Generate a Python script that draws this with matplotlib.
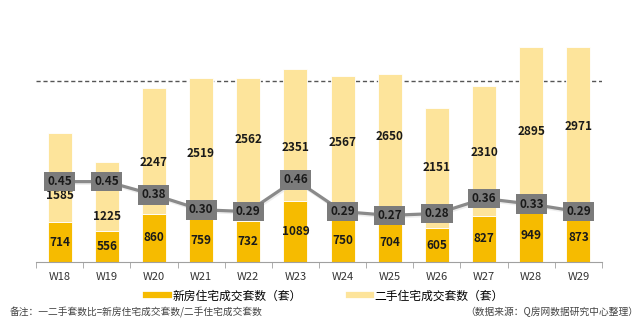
import matplotlib.pyplot as plt
from matplotlib.lines import Line2D
import numpy as np

plt.rcParams['font.family'] = ['Noto Sans CJK SC', 'DejaVu Sans']

weeks = ['W18', 'W19', 'W20', 'W21', 'W22', 'W23', 'W24', 'W25', 'W26', 'W27', 'W28', 'W29']
new_homes = [714, 556, 860, 759, 732, 1089, 750, 704, 605, 827, 949, 873]
second_homes = [1585, 1225, 2247, 2519, 2562, 2351, 2567, 2650, 2151, 2310, 2895, 2971]
ratio = [0.45, 0.45, 0.38, 0.30, 0.29, 0.46, 0.29, 0.27, 0.28, 0.36, 0.33, 0.29]

# where the second-hand labels sit (they dodge the ratio boxes)
second_label_y = [1196, 821, 1768, 1929, 2179, 2036, 2125, 2232, 1679, 1964, 2339, 2411]
ref_level = 3232

c_new = '#F6BB00'
c_second = '#FDE49B'

fig = plt.figure(figsize=(6.41, 3.24), dpi=100)
ax = fig.add_axes([36 / 641, 1 - 262 / 324, 566 / 641, 242 / 324])
x = np.arange(len(weeks))

ax.bar(x, new_homes, width=0.51, color=c_new, edgecolor='white', linewidth=0.6, zorder=2)
ax.bar(x, second_homes, width=0.51, bottom=new_homes, color=c_second, edgecolor='white', linewidth=0.6, zorder=2)
ax.axhline(ref_level, color='#555555', linestyle=(0, (3, 2)), linewidth=1, zorder=1)

for i in range(len(weeks)):
    ax.text(x[i], new_homes[i] / 2, str(new_homes[i]), ha='center', va='center',
            fontsize=8.5, fontweight='bold', color='#1a1a1a', zorder=5)
    ax.text(x[i], second_label_y[i], str(second_homes[i]), ha='center', va='center',
            fontsize=8.5, fontweight='bold', color='#1a1a1a', zorder=5)

ax.set_xlim(-0.5, len(weeks) - 0.5)
ax.set_ylim(0, 4321)
ax.set_yticks([])
for s in ['top', 'right', 'left']:
    ax.spines[s].set_visible(False)
ax.spines['bottom'].set_color('#a0a0a0')
ax.set_xticks(x)
ax.set_xticklabels(weeks, fontsize=8, color='#333333')
ax.set_xticks(np.arange(-0.5, len(weeks)), minor=True)
ax.tick_params(axis='x', which='major', length=0, pad=7)
ax.tick_params(axis='x', which='minor', length=4, color='#a0a0a0', direction='out')

# ratio line on a second axis
ax2 = ax.twinx()
ax2.set_ylim(0.0213, 1.312)
ax2.plot(x + 0.02, np.array(ratio) - 0.008, color='#dcdcdc', linewidth=2.5, alpha=0.5, zorder=2)
ax2.plot(x, ratio, color='#8a8a8a', linewidth=2.3, zorder=3)
for i in range(len(weeks)):
    ax2.text(x[i], ratio[i], '%.2f' % ratio[i], ha='center', va='center',
             fontsize=8.5, fontweight='bold', color='#1a1a1a', zorder=6,
             bbox=dict(boxstyle='square,pad=0.28', facecolor='#7b7b7b', edgecolor='none'))
ax2.set_yticks([])
for s in ax2.spines.values():
    s.set_visible(False)

handles = [Line2D([], [], color=c_new, linewidth=4.5),
           Line2D([], [], color=c_second, linewidth=4.5)]
fig.legend(handles, ['新房住宅成交套数（套）', '二手住宅成交套数（套）'],
           loc='center', bbox_to_anchor=(325 / 641, 1 - 296 / 324), ncol=2,
           frameon=False, fontsize=8.5, handlelength=1.9, handletextpad=0.3,
           columnspacing=4.0)

fig.text(10 / 641, 1 - 312 / 324, '备注：一二手套数比=新房住宅成交套数/二手住宅成交套数',
         fontsize=7, color='#444444', va='center', ha='left')
fig.text(638 / 641, 1 - 312 / 324, '（数据来源：Q房网数据研究中心整理）',
         fontsize=7, color='#444444', va='center', ha='right')

fig.savefig('out.png', dpi=100)
